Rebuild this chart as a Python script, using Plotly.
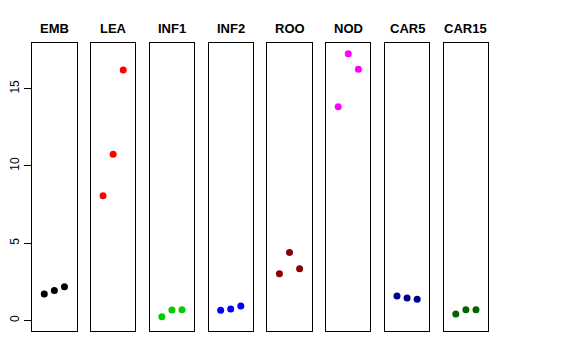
import plotly.graph_objects as go

panels = ["EMB", "LEA", "INF1", "INF2", "ROO", "NOD", "CAR5", "CAR15"]
colors = ["#000000", "#FF0000", "#00CD00", "#0000FF", "#8B0000", "#FF00FF", "#00008B", "#006400"]
emb = [1.70, 1.94, 2.18]
lea = [8.07, 10.75, 16.21]
inf1 = [0.23, 0.67, 0.69]
inf2 = [0.65, 0.73, 0.93]
roo = [3.02, 4.40, 3.34]
nod = [13.83, 17.27, 16.26]
car5 = [1.57, 1.44, 1.36]
car15 = [0.41, 0.69, 0.69]
values = [emb, lea, inf1, inf2, roo, nod, car5, car15]
replicates = [1, 2, 3]
y_ticks = [0, 5, 10, 15]

W, H = 576, 360
OFF = 8.0  # page body margin offset
left0, step, pw = 28.3 - OFF, 59.2, 44.7
top, bottom = 43.0 - OFF, 331.0 - OFF

fig = go.Figure()
annotations = []
for i, (name, col, vals) in enumerate(zip(panels, colors, values)):
    xa = "x" if i == 0 else f"x{i+1}"
    ya = "y" if i == 0 else f"y{i+1}"
    fig.add_trace(go.Scatter(x=replicates, y=vals, mode="markers",
                             marker=dict(color=col, size=7),
                             xaxis=xa, yaxis=ya, showlegend=False,
                             hoverinfo="skip"))
    l = left0 + i * step
    xd = [l / W, (l + pw) / W]
    yd = [(H - bottom) / H, (H - top) / H]
    xkey = "xaxis" if i == 0 else f"xaxis{i+1}"
    ykey = "yaxis" if i == 0 else f"yaxis{i+1}"
    fig.update_layout(**{
        xkey: dict(domain=xd, range=[-0.2, 4.2], showline=True, mirror=True,
                   linecolor="black", linewidth=1, showgrid=False, zeroline=False,
                   showticklabels=False, ticks="", anchor=ya),
        ykey: dict(domain=yd, range=[-0.69, 17.96], showline=True, mirror=True,
                   linecolor="black", linewidth=1, showgrid=False, zeroline=False,
                   anchor=xa,
                   tickvals=y_ticks if i == 0 else [],
                   ticks="outside" if i == 0 else "",
                   ticklen=7, tickcolor="black",
                   showticklabels=(i == 0), tickangle=-90,
                   tickfont=dict(family="Liberation Sans, Arial", size=12, color="black")),
    })
    annotations.append(dict(text=f"<b>{name}</b>", x=(l + pw / 2) / W, y=(H - (28.5 - OFF)) / H,
                            xref="paper", yref="paper", showarrow=False,
                            xanchor="center", yanchor="middle",
                            font=dict(family="Liberation Sans, Arial", size=13, color="black")))

fig.update_layout(width=W, height=H, margin=dict(l=0, r=0, t=0, b=0),
                  plot_bgcolor="white", paper_bgcolor="white",
                  annotations=annotations)
fig.write_html("out.html")
